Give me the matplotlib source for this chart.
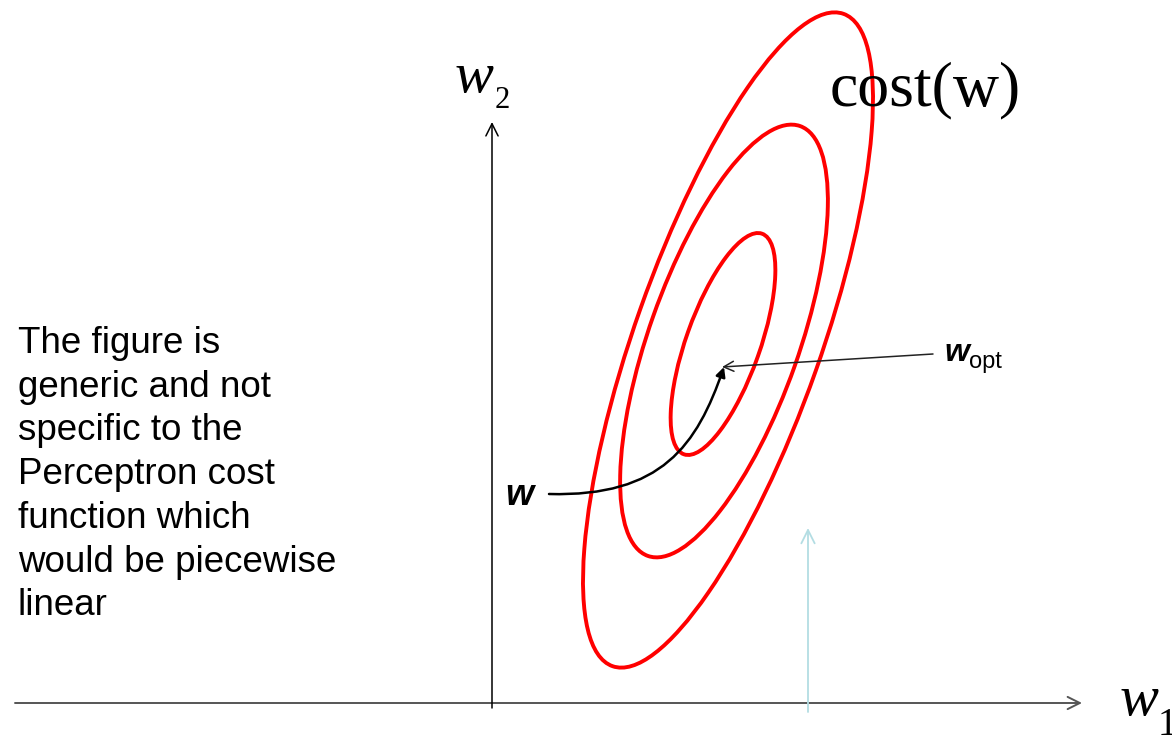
import matplotlib
matplotlib.use("Agg")
import matplotlib.pyplot as plt
import matplotlib.patches as patches
from matplotlib.path import Path

# Canvas is laid out in pixel units (origin top-left)
W, H = 1172, 739

# cost contours (three tilted ellipses)
ell_cx = [728, 724, 723]
ell_cy = [340, 341, 344]
ell_major = [346, 228, 117]   # semi axes
ell_minor = [93, 75, 37]
ell_tilt = 19.5               # degrees, top leaning right

# left-hand note
note_lines = ["The figure is", "generic and not", "specific to the",
              "Perceptron cost", "function which", "would be piecewise",
              "linear"]

# descent path from w to w_opt (cubic bezier nodes)
path_x = [549, 662, 697, 724]
path_y = [494, 497, 445, 367]

fig = plt.figure(figsize=(W / 100, H / 100), dpi=100)
ax = fig.add_axes([0, 0, 1, 1])
ax.set_xlim(0, W)
ax.set_ylim(H, 0)
ax.axis('off')

# axes arrows
ax.add_patch(patches.FancyArrowPatch((15, 703), (1082, 703), arrowstyle='->',
                                     mutation_scale=22, color='#555555', lw=1.4,
                                     shrinkA=0, shrinkB=0))
ax.add_patch(patches.FancyArrowPatch((492, 708), (492, 122), arrowstyle='->',
                                     mutation_scale=22, color='black', lw=1.1,
                                     shrinkA=0, shrinkB=0))
# faint blue arrow
ax.add_patch(patches.FancyArrowPatch((808, 712), (808, 528), arrowstyle='->',
                                     mutation_scale=24, color='#b3dde3', lw=1.3,
                                     shrinkA=0, shrinkB=0))

# ellipses
for cx, cy, a, b in zip(ell_cx, ell_cy, ell_major, ell_minor):
    e = patches.Ellipse((cx, cy), width=2 * b, height=2 * a, angle=ell_tilt,
                        fill=False, edgecolor='#ff0000', lw=2.8)
    ax.add_patch(e)

# curved path w -> w_opt
verts = list(zip(path_x, path_y))
curve = Path(verts, [Path.MOVETO, Path.CURVE4, Path.CURVE4, Path.CURVE4])
ax.add_patch(patches.FancyArrowPatch(path=curve, arrowstyle='-|>', mutation_scale=14,
                                     color='black', lw=1.8))
# w_opt pointer
ax.add_patch(patches.FancyArrowPatch((933, 354), (722, 367), arrowstyle='->',
                                     mutation_scale=18, color='#222222', lw=1.1,
                                     shrinkA=0, shrinkB=0))

# labels
ax.text(505, 505, 'w', fontsize=26, fontweight='bold', fontstyle='italic',
        family='Liberation Sans', va='baseline', ha='left')
ax.text(944, 361, 'w', fontsize=23, fontweight='bold', fontstyle='italic',
        family='Liberation Sans', va='baseline', ha='left')
ax.text(969, 368, 'opt', fontsize=17, family='Liberation Sans', va='baseline', ha='left')

ax.text(830, 105, 'cost(w)', fontsize=46, family='Liberation Serif', va='baseline', ha='left')

ax.text(455, 92, 'w', fontsize=42, fontstyle='italic', family='Liberation Serif',
        va='baseline', ha='left')
ax.text(495, 108, '2', fontsize=22, family='Liberation Serif', va='baseline', ha='left')
ax.text(1120, 715, 'w', fontsize=42, fontstyle='italic', family='Liberation Serif',
        va='baseline', ha='left')
ax.text(1158, 735, '1', fontsize=28, family='Liberation Serif', va='baseline', ha='left')

for i, line in enumerate(note_lines):
    ax.text(18, 353 + i * 43.7, line, fontsize=26.5, family='Liberation Sans',
            va='baseline', ha='left')

fig.savefig('out.png', dpi=100)
